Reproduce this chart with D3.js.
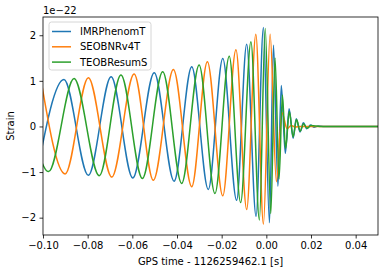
<!DOCTYPE html>
<meta charset="utf-8">
<script src="https://d3js.org/d3.v7.min.js"></script>
<style>
  body { margin: 0; background: white; }
  text { font-family: "DejaVu Sans", sans-serif; font-size: 10px; fill: #000; }
</style>
<div id="chart"></div>
<script>
  // strain in units of 1e-22, time in s relative to GPS 1126259462.1
  // values are the waveform extrema
  var phenomT_t = [-0.1027, -0.0906, -0.0797, -0.0695, -0.0598, -0.0502, -0.0413, -0.0334, -0.0260, -0.0195,
                   -0.0133, -0.0088, -0.0046, -0.0013, 0.0014, 0.0032, 0.0052, 0.0067, 0.0085, 0.0102,
                   0.0120, 0.0134, 0.0151, 0.0166, 0.0181, 0.0198, 0.0214, 0.0232, 0.026, 0.05];
  var phenomT_h = [-1.02, 1.03, -1.07, 1.09, -1.13, 1.18, -1.20, 1.31, -1.38, 1.49,
                   -1.62, 1.80, -1.97, 2.17, -2.11, 1.78, -1.31, 0.90, -0.59, 0.39,
                   -0.26, 0.17, -0.12, 0.08, -0.05, 0.03, -0.015, 0.008, 0, 0];

  var seob_t = [-0.1009, -0.0901, -0.0797, -0.0692, -0.0592, -0.0506, -0.0416, -0.0334, -0.0264, -0.0195,
                -0.0136, -0.0088, -0.0047, -0.0013, 0.0017, 0.0045, 0.0070, 0.0093, 0.0111, 0.0129, 0.015, 0.05];
  var seob_h = [1.02, -1.04, 1.07, -1.11, 1.15, -1.18, 1.25, -1.32, 1.42, -1.52,
                1.68, -1.82, 2.02, -2.14, 2.02, -1.21, 0.30, -0.05, 0.02, -0.01, 0, 0];

  var teob_t = [-0.1083, -0.0975, -0.0861, -0.0748, -0.0651, -0.0555, -0.0464, -0.0379, -0.0301, -0.0230,
                -0.0166, -0.0115, -0.0069, -0.0031, -0.0005, 0.0020, 0.0039, 0.0057, 0.0072, 0.0086,
                0.0103, 0.0120, 0.0135, 0.0152, 0.0167, 0.0182, 0.0200, 0.024, 0.05];
  var teob_h = [1.00, -0.99, 1.05, -1.08, 1.13, -1.14, 1.20, -1.25, 1.35, -1.47,
                1.54, -1.67, 1.86, -2.05, 2.15, -1.91, 1.50, -1.15, 0.69, -0.48,
                0.33, -0.23, 0.15, -0.10, 0.06, -0.04, 0.02, 0, 0];

  var seriesNames = ["IMRPhenomT", "SEOBNRv4T", "TEOBResumS"];
  var seriesColors = ["#1f77b4", "#ff7f0e", "#2ca02c"];
  var xTicks = [-0.10, -0.08, -0.06, -0.04, -0.02, 0.00, 0.02, 0.04];
  var yTicks = [-2, -1, 0, 1, 2];

  var series = [
    {name: seriesNames[0], t: phenomT_t, h: phenomT_h},
    {name: seriesNames[1], t: seob_t, h: seob_h},
    {name: seriesNames[2], t: teob_t, h: teob_h}
  ];

  var margin = {top: 17, right: 6, bottom: 38, left: 43},
      width = 384 - margin.left - margin.right,
      height = 273 - margin.top - margin.bottom;

  var svg = d3.select("#chart")
    .append("svg")
      .attr("width", 384)
      .attr("height", 273)
    .append("g")
      .attr("transform", "translate(" + margin.left + "," + margin.top + ")");

  var x = d3.scaleLinear().domain([-0.10, 0.05]).range([0, width]);
  var y = d3.scaleLinear().domain([-2.38, 2.40]).range([height, 0]);

  svg.append("clipPath").attr("id", "clip")
    .append("rect").attr("width", width).attr("height", height);

  var line = d3.line()
    .x(d => x(d[0]))
    .y(d => y(d[1]))
    .curve(d3.curveMonotoneX);

  svg.append("g").attr("clip-path", "url(#clip)")
    .selectAll("path")
    .data(series)
    .enter()
    .append("path")
      .attr("fill", "none")
      .attr("stroke", (d, i) => seriesColors[i])
      .attr("stroke-width", 1.5)
      .attr("d", d => line(d.t.map((t, i) => [t, d.h[i]])));

  // axes
  var xAxis = svg.append("g")
    .attr("transform", "translate(0," + height + ")")
    .call(d3.axisBottom(x).tickValues(xTicks).tickFormat(d3.format(".2f")).tickSize(3.5).tickPadding(3.5));
  var yAxis = svg.append("g")
    .call(d3.axisLeft(y).tickValues(yTicks).tickFormat(d3.format("d")).tickSize(3.5).tickPadding(3.5));
  [xAxis, yAxis].forEach(function(a) {
    a.select(".domain").remove();
    a.selectAll("line").attr("stroke", "#000").attr("stroke-width", 0.8);
    a.selectAll("text").style("font-family", "DejaVu Sans").style("font-size", "10px").attr("fill", "#000");
  });

  svg.append("rect")
    .attr("width", width).attr("height", height)
    .attr("fill", "none").attr("stroke", "#000").attr("stroke-width", 0.8);

  svg.append("text")
    .attr("x", width / 2)
    .attr("y", height + 30)
    .attr("text-anchor", "middle")
    .text("GPS time - 1126259462.1 [s]");

  svg.append("text")
    .attr("transform", "rotate(-90)")
    .attr("x", -height / 2)
    .attr("y", -29)
    .attr("text-anchor", "middle")
    .text("Strain");

  svg.append("text")
    .attr("x", 0)
    .attr("y", -3)
    .text("1e\u221222");

  // legend
  var legend = svg.append("g").attr("transform", "translate(6,5)");
  legend.append("rect")
    .attr("width", 102).attr("height", 48)
    .attr("rx", 2.5)
    .attr("fill", "white").attr("fill-opacity", 0.8)
    .attr("stroke", "#cccccc").attr("stroke-width", 0.8);
  var items = legend.selectAll("g.item")
    .data(seriesNames)
    .enter()
    .append("g")
      .attr("class", "item")
      .attr("transform", (d, i) => "translate(0," + (9.5 + i * 15.3) + ")");
  items.append("line")
    .attr("x1", 3).attr("x2", 22)
    .attr("stroke", (d, i) => seriesColors[i])
    .attr("stroke-width", 1.5);
  items.append("text")
    .attr("x", 31)
    .attr("y", 3.5)
    .text(d => d);
</script>
